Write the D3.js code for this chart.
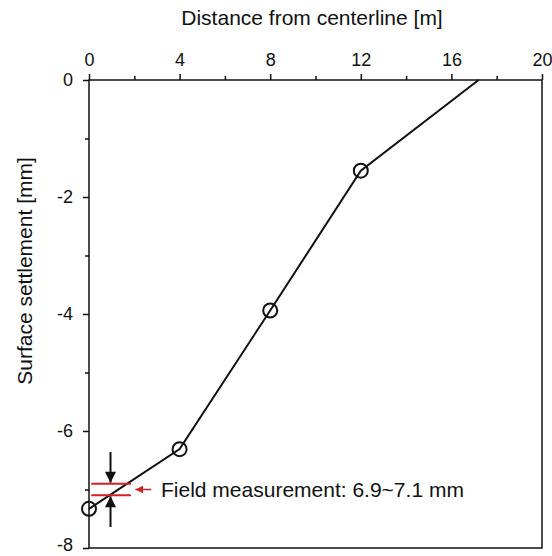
<!DOCTYPE html>
<html>
<head>
<meta charset="utf-8">
<script src="https://cdn.jsdelivr.net/npm/d3@7"></script>
<style>
  body { margin: 0; background: #fff; }
  svg text { font-family: "Liberation Sans", Arial, sans-serif; fill: #111; }
</style>
</head>
<body>
<svg id="chart" width="552" height="556"></svg>
<script>
// data
var distance = [0, 4, 8, 12, 17.2];
var settlement = [-7.33, -6.31, -3.94, -1.55, 0];
var x_ticks = [0, 4, 8, 12, 16, 20];
var x_minor = [2, 6, 10, 14, 18];
var y_ticks = [0, -2, -4, -6, -8];
var y_minor = [-1, -3, -5, -7];
var field_range = [-6.9, -7.1];
var field_x = [0.1, 1.85];
var field_label = 'Field measurement: 6.9~7.1 mm';

var padding = {top: 80, left: 89, right: 10, bottom: 8};
var svg = d3.select('#chart');
var width = 552, height = 556;

var x_scale = d3.scaleLinear().domain([0, 20]).range([padding.left, width - padding.right]);
var y_scale = d3.scaleLinear().domain([-8, 0]).range([height - padding.bottom, padding.top]);

var points = distance.map(function(d, i){ return {x: d, y: settlement[i]}; });

// frame
svg.append('rect')
    .attr('x', x_scale(0)).attr('y', y_scale(0))
    .attr('width', x_scale(20) - x_scale(0))
    .attr('height', y_scale(-8) - y_scale(0))
    .attr('fill', 'none').attr('stroke', '#111').attr('stroke-width', 1.5);

// top axis
svg.append('g')
    .attr('transform', 'translate(0,' + y_scale(0) + ')')
    .call(d3.axisTop(x_scale).tickValues(x_ticks).tickSize(6).tickPadding(8).tickFormat(function(t){ return String(t); }));
svg.append('g')
    .attr('transform', 'translate(0,' + y_scale(0) + ')')
    .call(d3.axisTop(x_scale).tickValues(x_minor).tickSize(4).tickFormat(''));

// left axis
var y_axis = svg.append('g')
    .attr('transform', 'translate(' + x_scale(0) + ',0)')
    .call(d3.axisLeft(y_scale).tickValues(y_ticks).tickSize(6).tickPadding(10).tickFormat(function(t){ return String(t); }));
svg.append('g')
    .attr('transform', 'translate(' + x_scale(0) + ',0)')
    .call(d3.axisLeft(y_scale).tickValues(y_minor).tickSize(4).tickFormat(''));

svg.selectAll('.domain').remove();
svg.selectAll('.tick line').attr('stroke', '#111').attr('stroke-width', 1.5);
svg.selectAll('.tick text').attr('font-size', 18).attr('fill', '#111')
    .style('font-family', '"Liberation Sans", Arial, sans-serif');
// lowest label sits at the page edge, lift it a little
y_axis.selectAll('.tick text').filter(function(d){ return d === -8; }).attr('y', -3);

// axis titles
svg.append('text')
    .attr('x', 312).attr('y', 25)
    .attr('text-anchor', 'middle').attr('font-size', 21)
    .text('Distance from centerline [m]');
svg.append('text')
    .attr('transform', 'translate(32,271) rotate(-90)')
    .attr('text-anchor', 'middle').attr('font-size', 21)
    .text('Surface settlement [mm]');

// curve
var line = d3.line()
    .x(function(d){ return x_scale(d.x); })
    .y(function(d){ return y_scale(d.y); });
svg.append('path')
    .datum(points)
    .attr('d', line)
    .attr('fill', 'none').attr('stroke', '#111').attr('stroke-width', 2);

// field measurement band
svg.selectAll('.field')
    .data(field_range)
    .enter()
    .append('line')
    .attr('class', 'field')
    .attr('x1', x_scale(field_x[0])).attr('x2', x_scale(field_x[1]))
    .attr('y1', function(d){ return y_scale(d); })
    .attr('y2', function(d){ return y_scale(d); })
    .attr('stroke', '#d42020').attr('stroke-width', 2);

// markers (only the measured points)
svg.selectAll('.marker')
    .data(points.slice(0, 4))
    .enter()
    .append('circle')
    .attr('class', 'marker')
    .attr('cx', function(d){ return x_scale(d.x); })
    .attr('cy', function(d){ return y_scale(d.y); })
    .attr('r', 7)
    .attr('fill', 'none').attr('stroke', '#111').attr('stroke-width', 2);

// arrow heads
var defs = svg.append('defs');
defs.append('marker').attr('id', 'head-black')
    .attr('viewBox', '0 0 10 10').attr('refX', 10).attr('refY', 5)
    .attr('markerWidth', 12).attr('markerHeight', 11).attr('markerUnits', 'userSpaceOnUse')
    .attr('orient', 'auto')
    .append('path').attr('d', 'M0,0 L10,5 L0,10 z').attr('fill', '#111');
defs.append('marker').attr('id', 'head-red')
    .attr('viewBox', '0 0 10 10').attr('refX', 10).attr('refY', 5)
    .attr('markerWidth', 8).attr('markerHeight', 8).attr('markerUnits', 'userSpaceOnUse')
    .attr('orient', 'auto')
    .append('path').attr('d', 'M0,0 L10,5 L0,10 z').attr('fill', '#d42020');

var ax = x_scale(0.95);
svg.append('line')
    .attr('x1', ax).attr('x2', ax)
    .attr('y1', y_scale(-6.36)).attr('y2', y_scale(-6.9) - 1)
    .attr('stroke', '#111').attr('stroke-width', 2).attr('marker-end', 'url(#head-black)');
svg.append('line')
    .attr('x1', ax).attr('x2', ax)
    .attr('y1', y_scale(-7.64)).attr('y2', y_scale(-7.1) + 1)
    .attr('stroke', '#111').attr('stroke-width', 2).attr('marker-end', 'url(#head-black)');

// red pointer and label
var ly = y_scale(-7.0);
svg.append('line')
    .attr('x1', x_scale(2.75)).attr('x2', x_scale(2.05))
    .attr('y1', ly).attr('y2', ly)
    .attr('stroke', '#d42020').attr('stroke-width', 1.5).attr('marker-end', 'url(#head-red)');
svg.append('text')
    .attr('x', 161).attr('y', ly + 7)
    .attr('font-size', 21)
    .text(field_label);
</script>
</body>
</html>
